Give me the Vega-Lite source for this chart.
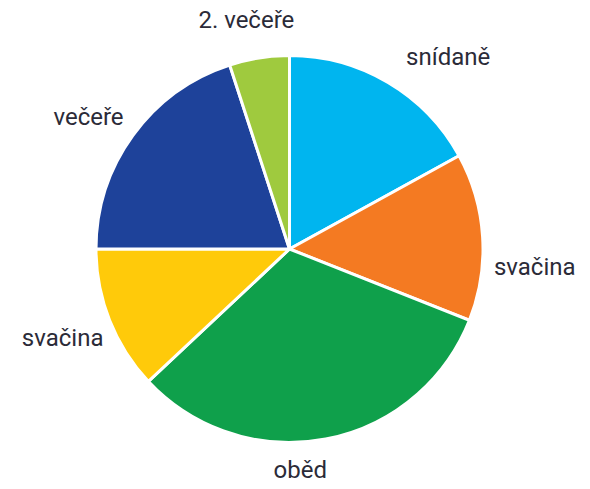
{
  "$schema": "https://vega.github.io/schema/vega-lite/v6.json",
  "width": 590,
  "height": 489,
  "autosize": {"type": "fit", "contains": "padding"},
  "padding": {"left": 0, "right": 11, "top": 9, "bottom": 0},
  "background": "white",
  "view": {"stroke": null},
  "data": {
    "values": [
      {"id": "a", "label": "snídaně", "value": 17, "order": 1},
      {"id": "b", "label": "svačina", "value": 14, "order": 2},
      {"id": "c", "label": "oběd", "value": 32, "order": 3},
      {"id": "d", "label": "svačina", "value": 12, "order": 4},
      {"id": "e", "label": "večeře", "value": 20, "order": 5},
      {"id": "f", "label": "2. večeře", "value": 5, "order": 6}
    ]
  },
  "encoding": {
    "theta": {"field": "value", "type": "quantitative", "stack": true},
    "order": {"field": "order", "type": "quantitative"}
  },
  "layer": [
    {
      "mark": {"type": "arc", "outerRadius": 193.5, "stroke": "white", "strokeWidth": 3},
      "encoding": {
        "color": {
          "field": "id",
          "type": "nominal",
          "scale": {
            "domain": ["a", "b", "c", "d", "e", "f"],
            "range": ["#00b5ef", "#f47a22", "#0fa04b", "#ffca0a", "#1e429a", "#9fca3e"]
          },
          "legend": null
        }
      }
    },
    {
      "mark": {"type": "text", "radius": 248, "thetaOffset": 0.16, "fontSize": 24, "font": "Roboto", "fill": "#2b2b38", "align": "center", "baseline": "middle"},
      "encoding": {"text": {"condition": {"test": "datum.id === 'a'", "field": "label", "type": "nominal"}, "value": ""}}
    },
    {
      "mark": {"type": "text", "radius": 246, "thetaOffset": 0.14, "fontSize": 24, "font": "Roboto", "fill": "#2b2b38", "align": "center", "baseline": "middle"},
      "encoding": {"text": {"condition": {"test": "datum.id === 'b'", "field": "label", "type": "nominal"}, "value": ""}}
    },
    {
      "mark": {"type": "text", "radius": 222, "thetaOffset": 0.14, "fontSize": 24, "font": "Roboto", "fill": "#2b2b38", "align": "center", "baseline": "middle"},
      "encoding": {"text": {"condition": {"test": "datum.id === 'c'", "field": "label", "type": "nominal"}, "value": ""}}
    },
    {
      "mark": {"type": "text", "radius": 244, "fontSize": 24, "font": "Roboto", "fill": "#2b2b38", "align": "center", "baseline": "middle"},
      "encoding": {"text": {"condition": {"test": "datum.id === 'd'", "field": "label", "type": "nominal"}, "value": ""}}
    },
    {
      "mark": {"type": "text", "radius": 240, "thetaOffset": -0.05, "fontSize": 24, "font": "Roboto", "fill": "#2b2b38", "align": "center", "baseline": "middle"},
      "encoding": {"text": {"condition": {"test": "datum.id === 'e'", "field": "label", "type": "nominal"}, "value": ""}}
    },
    {
      "mark": {"type": "text", "radius": 232, "thetaOffset": -0.03, "fontSize": 24, "font": "Roboto", "fill": "#2b2b38", "align": "center", "baseline": "middle"},
      "encoding": {"text": {"condition": {"test": "datum.id === 'f'", "field": "label", "type": "nominal"}, "value": ""}}
    }
  ]
}
